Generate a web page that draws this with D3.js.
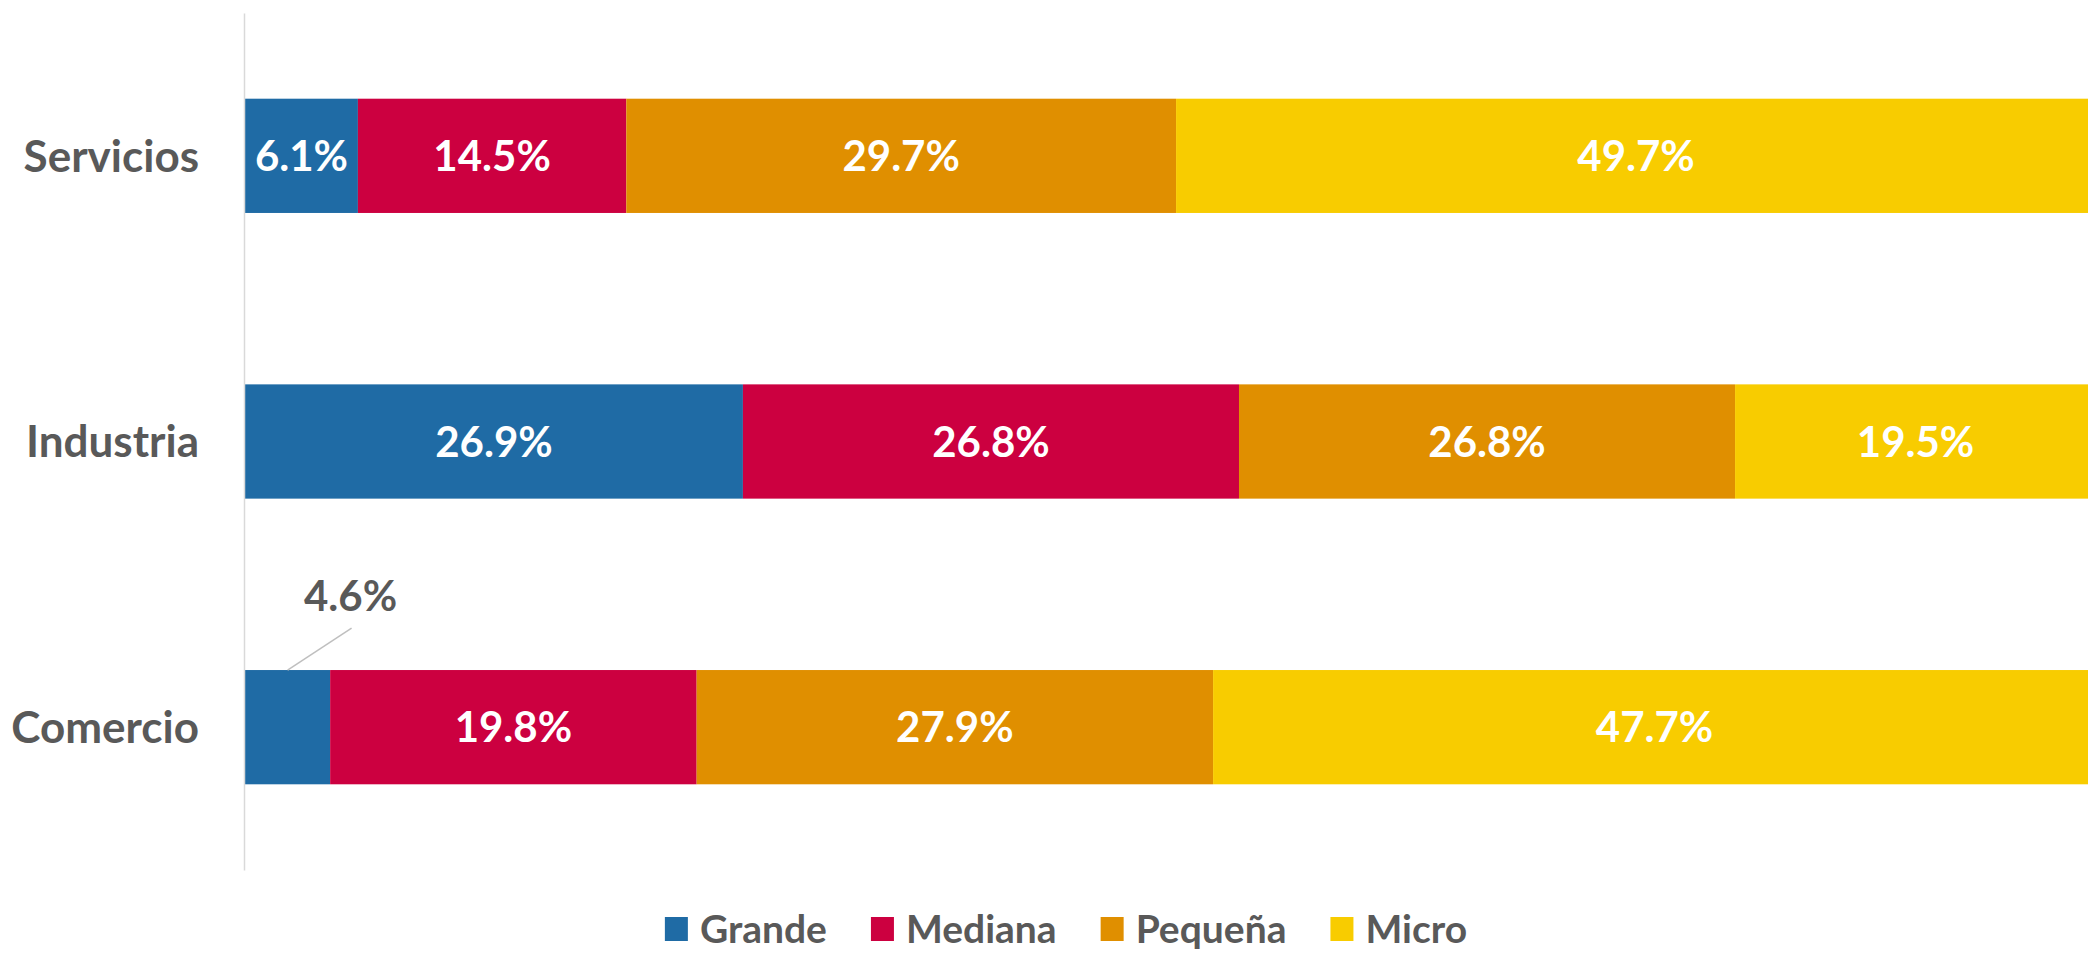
<!DOCTYPE html>
<html><head><meta charset="utf-8">
<script src="https://cdn.jsdelivr.net/npm/d3@7"></script>
<style>body{margin:0;background:#fff;} svg{display:block;}</style>
</head><body>
<svg id="chart" width="2088" height="953"></svg>
<script>
const categories = ["Servicios", "Industria", "Comercio"];
const seriesNames = ["Grande", "Mediana", "Pequeña", "Micro"];
const grande  = [6.1, 26.9, 4.6];
const mediana = [14.5, 26.8, 19.8];
const pequena = [29.7, 26.8, 27.9];
const micro   = [49.7, 19.5, 47.7];
const colors = ["#1F6BA5", "#CC0040", "#E08F00", "#F8CC00"];

const W = 2088, H = 953;
const FONT = "Lato, 'Open Sans', sans-serif";
const svg = d3.select("#chart");

const rows = categories.map((c, i) => ({cat: c, Grande: grande[i], Mediana: mediana[i], "Pequeña": pequena[i], Micro: micro[i]}));
const stack = d3.stack().keys(seriesNames)(rows);

const x = d3.scaleLinear().domain([0, 100]).range([245, 2096]);
const y = d3.scaleBand().domain(categories).range([13, 870]).paddingInner(0.6).paddingOuter(0.3);
const color = d3.scaleOrdinal().domain(seriesNames).range(colors);

// bars
const g = svg.append("g");
stack.forEach(layer => {
  g.selectAll(null).data(layer).enter().append("rect")
    .attr("x", d => x(d[0]))
    .attr("y", d => y(d.data.cat))
    .attr("width", d => x(d[1]) - x(d[0]))
    .attr("height", y.bandwidth())
    .attr("fill", color(layer.key));
});

// axis line
const yAxis = d3.axisLeft(y).tickSize(0).tickPadding(45);
const ax = svg.append("g").attr("transform", `translate(${x(0) - 1},0)`).call(yAxis);
ax.select(".domain").attr("stroke", "#d9d9d9").attr("stroke-width", 1.5);
ax.selectAll(".tick text")
  .attr("font-family", FONT).attr("font-size", 44).attr("font-weight", 700)
  .attr("fill", "#595959").attr("dy", "0.36em");

// data labels
const lbl = svg.append("g");
stack.forEach(layer => {
  layer.forEach(d => {
    const x0 = x(d[0]), x1 = x(d[1]);
    const v = d[1] - d[0];
    const txt = v.toFixed(1) + "%";
    const cy = y(d.data.cat) + y.bandwidth() / 2;
    const t = lbl.append("text").text(txt)
      .attr("font-family", FONT).attr("font-size", 42).attr("font-weight", 700)
      .attr("text-anchor", "middle");
    const tw = t.node().getComputedTextLength();
    if (tw > (x1 - x0) - 4) {
      const sx = (x0 + x1) / 2, sy = y(d.data.cat);
      t.attr("x", sx + 63).attr("y", sy - 59).attr("fill", "#595959");
      lbl.append("line").attr("x1", sx).attr("y1", sy).attr("x2", sx + 64).attr("y2", sy - 42)
        .attr("stroke", "#bfbfbf").attr("stroke-width", 1.5);
    } else {
      t.attr("x", (x0 + x1) / 2).attr("y", cy).attr("dy", "0.36em").attr("fill", "#ffffff");
    }
  });
});

// legend
const leg = svg.append("g");
const sq = 23, gapT = 12, gapI = 44, base = 943;
let cur = 0;
seriesNames.forEach(n => {
  const it = leg.append("g");
  it.append("rect").attr("x", cur).attr("y", base - 26).attr("width", sq).attr("height", sq + 1).attr("fill", color(n));
  const t = it.append("text").text(n).attr("x", cur + sq + gapT).attr("y", base)
    .attr("font-family", FONT).attr("font-size", 39).attr("font-weight", 700).attr("fill", "#595959");
  cur += sq + gapT + t.node().getComputedTextLength() + gapI;
});
const total = cur - gapI;
leg.attr("transform", `translate(${1066 - total / 2},0)`);
</script>
</body></html>
